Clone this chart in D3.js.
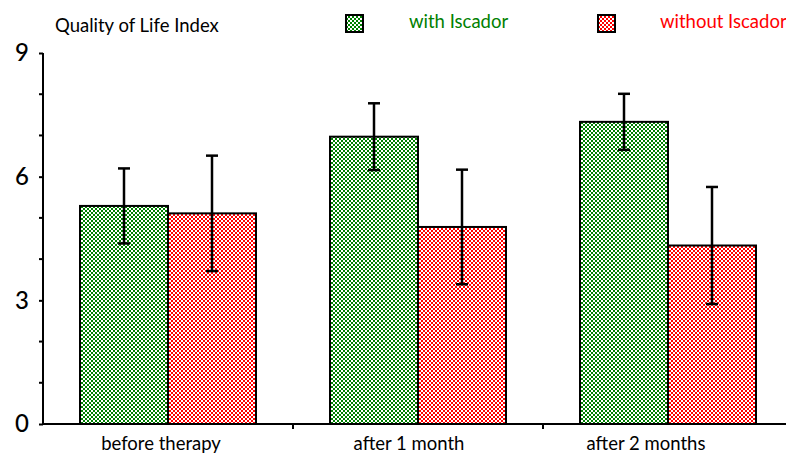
<!DOCTYPE html>
<html>
<head>
<meta charset="utf-8">
<script src="https://cdn.jsdelivr.net/npm/d3@7/dist/d3.min.js"></script>
<style>
  html, body { margin: 0; padding: 0; background: #fff; }
  svg { display: block; font-family: Lato, "Open Sans", sans-serif; }
</style>
</head>
<body>
<svg id="chart" width="786" height="454"></svg>
<script>
// Quality of life index, with and without Iscador, over time
const categories = ["before therapy", "after 1 month", "after 2 months"];
const seriesNames = ["with Iscador", "without Iscador"];
const withIscador = [5.29, 6.97, 7.33];
const withIscadorErr = [0.91, 0.81, 0.68];
const withoutIscador = [5.11, 4.78, 4.33];
const withoutIscadorErr = [1.40, 1.39, 1.42];
const yTicks = [0, 3, 6, 9];
const yMinorTicks = [1, 2, 4, 5, 7, 8];

const colors = { "with Iscador": "#008000", "without Iscador": "#ff0000" };

const svg = d3.select("#chart");
const defs = svg.append("defs");

// checkerboard fills
seriesNames.forEach((s, i) => {
  const p = defs.append("pattern")
    .attr("id", "check" + i)
    .attr("patternUnits", "userSpaceOnUse")
    .attr("width", 4).attr("height", 4);
  p.append("rect").attr("width", 4).attr("height", 4).attr("fill", "#fff");
  p.append("rect").attr("x", 0).attr("y", 0).attr("width", 2).attr("height", 2).attr("fill", colors[s]);
  p.append("rect").attr("x", 2).attr("y", 2).attr("width", 2).attr("height", 2).attr("fill", colors[s]);
});

const x0 = d3.scaleBand().domain(categories).range([43, 793]);
const x1 = d3.scaleBand().domain(seriesNames).range([37, 213]);
const y = d3.scaleLinear().domain([0, 9]).range([424, 53]);

const rows = categories.map((c, i) => ({
  cat: c,
  vals: [
    { s: seriesNames[0], v: withIscador[i], e: withIscadorErr[i], k: 0 },
    { s: seriesNames[1], v: withoutIscador[i], e: withoutIscadorErr[i], k: 1 }
  ]
}));

const groups = svg.append("g").selectAll("g").data(rows).join("g")
  .attr("transform", d => `translate(${x0(d.cat)},0)`);

groups.selectAll("rect").data(d => d.vals).join("rect")
  .attr("x", d => x1(d.s))
  .attr("y", d => y(d.v))
  .attr("width", x1.bandwidth())
  .attr("height", d => y(0) - y(d.v))
  .attr("fill", d => `url(#check${d.k})`)
  .attr("stroke", "#000")
  .attr("stroke-width", 2);

// error bars
const eb = groups.selectAll("g.err").data(d => d.vals).join("g").attr("class", "err")
  .attr("stroke", "#000").attr("stroke-width", 2.5);
eb.append("line")
  .attr("x1", d => x1(d.s) + x1.bandwidth() / 2)
  .attr("x2", d => x1(d.s) + x1.bandwidth() / 2)
  .attr("y1", d => y(d.v + d.e))
  .attr("y2", d => y(d.v - d.e));
[1, -1].forEach(sg => {
  eb.append("line")
    .attr("x1", d => x1(d.s) + x1.bandwidth() / 2 - 6)
    .attr("x2", d => x1(d.s) + x1.bandwidth() / 2 + 6)
    .attr("y1", d => y(d.v + sg * d.e))
    .attr("y2", d => y(d.v + sg * d.e));
});

// y axis
const yAxis = svg.append("g").attr("transform", "translate(43,0)")
  .call(d3.axisLeft(y).tickValues(yTicks).tickSize(4).tickPadding(10).tickFormat(d3.format("d")));
yAxis.select(".domain").attr("stroke-width", 2).attr("d", `M0,${y(9)}V${y(0)}`);
yAxis.selectAll(".tick line").attr("stroke-width", 2);
yAxis.selectAll(".tick text").attr("font-size", 24).attr("font-weight", 500)
  .attr("font-family", "Lato, sans-serif").attr("fill", "#000");
svg.append("g").selectAll("line").data(yMinorTicks).join("line")
  .attr("x1", 39).attr("x2", 43)
  .attr("y1", d => y(d)).attr("y2", d => y(d))
  .attr("stroke", "#000").attr("stroke-width", 2);

// x axis
const xAxis = svg.append("g").attr("transform", `translate(0,${y(0)})`)
  .call(d3.axisBottom(x0).tickSize(0).tickFormat(""));
xAxis.select(".domain").attr("stroke-width", 2).attr("d", `M42,0H786`);
svg.append("g").selectAll("line").data(categories.slice(1)).join("line")
  .attr("x1", d => x0(d)).attr("x2", d => x0(d))
  .attr("y1", y(0)).attr("y2", y(0) + 5)
  .attr("stroke", "#000").attr("stroke-width", 2);

const labelNudge = [-7, -9, -22];
svg.append("g").selectAll("text").data(categories).join("text")
  .attr("x", (d, i) => x0(d) + x0.bandwidth() / 2 + labelNudge[i])
  .attr("y", 450)
  .attr("text-anchor", "middle")
  .attr("font-size", 18.5)
  .attr("fill", "#000")
  .text(d => d);

// title
svg.append("text").attr("x", 55).attr("y", 32).attr("font-size", 18.5).attr("fill", "#000")
  .text("Quality of Life Index");

// legend
const legendX = [346, 598];
const legendTextX = [409, 660];
seriesNames.forEach((s, i) => {
  svg.append("rect").attr("x", legendX[i]).attr("y", 15).attr("width", 17).attr("height", 17)
    .attr("fill", `url(#check${i})`).attr("stroke", "#000").attr("stroke-width", 2);
  svg.append("text").attr("x", legendTextX[i]).attr("y", 28).attr("font-size", 18.5)
    .attr("fill", colors[s]).text(s);
});
</script>
</body>
</html>
